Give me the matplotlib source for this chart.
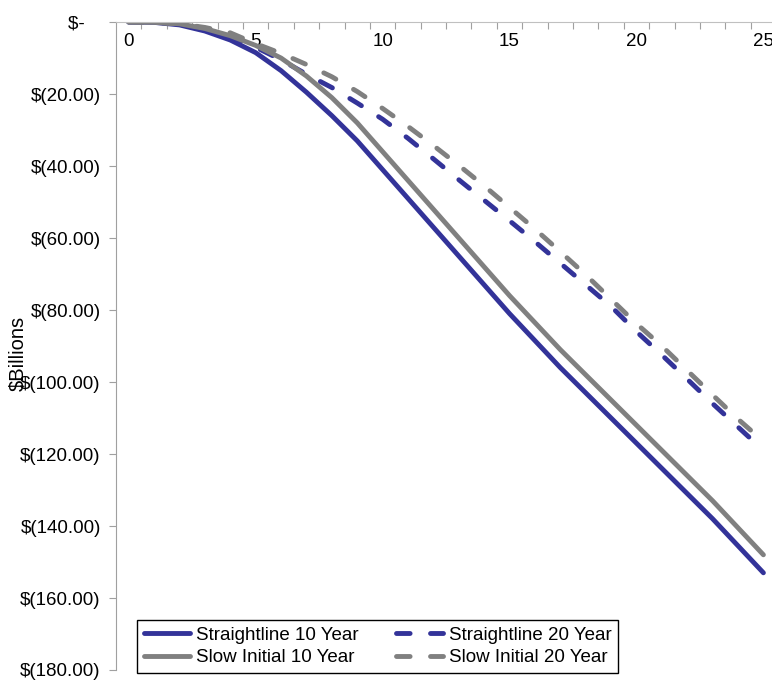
import numpy as np
import matplotlib.pyplot as plt

# Cumulative values, $ billions, by year
years = np.arange(26)
straight_10 = [0, -0.1, -0.8, -2.5, -5, -8.5, -13.5, -19.5, -26, -33, -41, -49, -57, -65, -73,
               -81, -88.5, -96, -103, -110, -117, -124, -131, -138, -145.5, -153]
straight_20 = [0, -0.1, -0.5, -1.8, -3.8, -7, -10.5, -14.5, -18.2, -22.5, -27, -32.3, -38, -43.8, -49.5,
               -55.2, -61, -67, -73, -79, -86, -92.5, -99.2, -106, -112.5, -119]
slow_10 = [0, -0.1, -0.5, -1.8, -3.8, -6.5, -10, -15, -21, -28, -36, -44, -52, -60, -68,
           -76, -83.5, -91, -98, -105, -112, -119, -126, -133, -140.5, -148]
slow_20 = [0, -0.1, -0.5, -1.5, -3, -6, -8.7, -11.8, -15.2, -19.3, -24, -29, -34.3, -39.8, -45.5,
           -51.5, -57.5, -63.8, -70.2, -77, -83.8, -90, -96.8, -103.6, -110.3, -116.5]

y_ticks = [0, -20, -40, -60, -80, -100, -120, -140, -160, -180]
y_labels = ['$-   ', '$(20.00)', '$(40.00)', '$(60.00)', '$(80.00)', '$(100.00)',
            '$(120.00)', '$(140.00)', '$(160.00)', '$(180.00)']

blue = '#333399'
gray = '#808080'

plt.rcParams['font.family'] = ['Liberation Sans', 'DejaVu Sans']
plt.rcParams['font.size'] = 13.5

fig = plt.figure(figsize=(7.72, 6.82), dpi=100)
ax = fig.add_axes([0.1503, 0.0176, 0.855, 0.9501])

lw = 3.5
dash = (0, (2.8, 4.2))
l1, = ax.plot(years, straight_10, color=blue, lw=lw, solid_capstyle='round', solid_joinstyle='round',
              label='Straightline 10 Year')
l2, = ax.plot(years, straight_20, color=blue, lw=lw, ls=dash, dash_capstyle='round',
              label='Straightline 20 Year')
l3, = ax.plot(years, slow_10, color=gray, lw=lw, solid_capstyle='round', solid_joinstyle='round',
              label='Slow Initial 10 Year')
l4, = ax.plot(years, slow_20, color=gray, lw=lw, ls=dash, dash_capstyle='round',
              label='Slow Initial 20 Year')

ax.set_xlim(-0.5, 25.5)
ax.set_ylim(-180, 0)

# x axis sits at y = 0 (top), ticks between categories
ax.spines['bottom'].set_position(('data', 0))
ax.spines['bottom'].set_color('#c0c0c0')
ax.spines['left'].set_color('#a0a0a0')
ax.spines['top'].set_visible(False)
ax.spines['right'].set_visible(False)
ax.set_xticks(np.arange(0.5, 25.5, 1))
ax.set_xticklabels([])
ax.set_xticks(range(0, 26, 5), minor=True)
ax.set_xticklabels([str(v) for v in range(0, 26, 5)], minor=True)
ax.tick_params(axis='x', which='major', direction='out', length=5, color='#a0a0a0')
ax.tick_params(axis='x', which='minor', length=0, pad=8)

ax.set_yticks(y_ticks)
ax.set_yticklabels(y_labels)
ax.tick_params(axis='y', direction='out', length=5, color='#a0a0a0', pad=6)

fig.text(18 / 772, 1 - 353 / 682, '$Billions', rotation=90, ha='center', va='center', fontsize=14.5)

leg = ax.legend([l1, l3, l2, l4], [l1.get_label(), l3.get_label(), l2.get_label(), l4.get_label()],
                ncol=2, loc='lower left', bbox_to_anchor=(137 / 772, 1 - 673 / 682),
                bbox_transform=fig.transFigure, borderaxespad=0, fancybox=False,
                edgecolor='black', framealpha=1, handlelength=2.5, handletextpad=0.3,
                columnspacing=2.0, labelspacing=0.3, borderpad=0.35, fontsize=13.5)
leg.get_frame().set_linewidth(1.0)

fig.savefig('out.png', dpi=100)
